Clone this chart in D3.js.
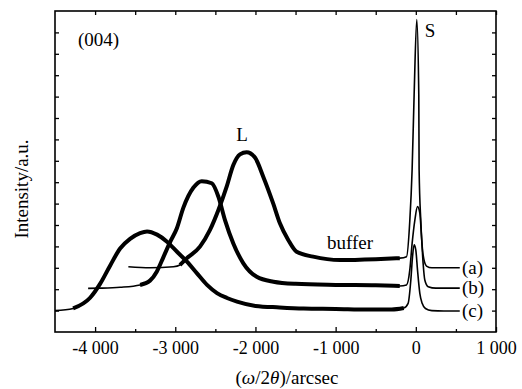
<!DOCTYPE html>
<html><head><meta charset="utf-8">
<script src="https://cdn.jsdelivr.net/npm/d3@7"></script>
<style>
body{margin:0;background:#fff}
text{font-family:"Liberation Serif","Times New Roman",serif;fill:#000}
</style>
</head><body>
<svg id="chart" width="522" height="389"></svg>
<script>
// ---- data ----
const seriesNames = ["(a)", "(b)", "(c)"];

const xA = [-3585, -3315, -3023, -2941, -2858, -2692, -2567, -2462, -2359, -2276, -2193, -2110, -2006, -1903, -1779, -1695, -1591, -1487, -1280, -947, -500, -200, -116, -75, -46, -21, 12, 37, 41, 62, 91, 133, 200, 548];
const yA = [3.05, 3.0, 3.05, 3.13, 3.44, 3.99, 4.77, 5.7, 6.79, 7.8, 8.3, 8.4, 8.15, 7.26, 6.01, 5.08, 4.3, 3.75, 3.52, 3.36, 3.4, 3.45, 3.52, 5.2, 7.6, 11.1, 14.6, 11.1, 7.6, 5.2, 3.6, 3.08, 3.0, 3.0];

const xB = [-4087, -3938, -3688, -3439, -3315, -3231, -3148, -3065, -2980, -2900, -2773, -2670, -2545, -2462, -2380, -2276, -2151, -1984, -1776, -1500, -1000, -500, -200, -116, -75, -46, -12, 21, 50, 71, 91, 112, 154, 250, 548];
const yB = [2.04, 2.05, 2.09, 2.2, 2.4, 2.82, 3.5, 4.2, 4.85, 5.8, 6.75, 7.05, 6.95, 6.32, 5.23, 4.14, 3.21, 2.58, 2.35, 2.25, 2.2, 2.18, 2.15, 2.2, 2.9, 4.14, 5.23, 5.86, 5.56, 4.45, 3.21, 2.43, 2.12, 2.05, 2.05];

const xC = [-4500, -4274, -4062, -3938, -3813, -3688, -3564, -3439, -3352, -3227, -3103, -2978, -2854, -2729, -2604, -2480, -2355, -2230, -2000, -1700, -1400, -1000, -600, -300, -150, -96, -62, -41, -21, 0, 21, 50, 79, 120, 200, 350, 548];
const yC = [1.0, 1.1, 1.6, 2.25, 3.1, 3.9, 4.35, 4.62, 4.7, 4.55, 4.22, 3.75, 3.29, 2.74, 2.2, 1.82, 1.59, 1.42, 1.22, 1.15, 1.1, 1.08, 1.05, 1.05, 1.12, 1.34, 2.43, 3.52, 4.07, 3.83, 2.9, 1.81, 1.34, 1.1, 1.0, 0.98, 0.98];

const xTickValues = [-4000, -3000, -2000, -1000, 0, 1000];
const xTickLabels = ["-4 000", "-3 000", "-2 000", "-1 000", "0", "1 000"];
const xMinorTicks = [-3500, -2500, -1500, -500, 500];
const yTickValues = [1, 2, 3, 4, 5, 6, 7, 8, 9, 10, 11, 12, 13, 14];

// ---- drawing ----
const SERIF = '"Liberation Serif","Times New Roman",serif';
const svg = d3.select("#chart");
const x = d3.scaleLinear().domain([-4500, 1000]).range([55, 496]);
const y = d3.scaleLinear().domain([0, 15]).range([332, 11]);

const series = [
  {name: seriesNames[0], xs: xA, ys: yA, thickFrom: -3000},
  {name: seriesNames[1], xs: xB, ys: yB, thickFrom: -3500},
  {name: seriesNames[2], xs: xC, ys: yC, thickFrom: -4400}
];

const line = d3.line().x(d => x(d[0])).y(d => y(d[1])).curve(d3.curveMonotoneX);

series.forEach(s => {
  const pts = s.xs.map((v, i) => [v, s.ys[i]]);
  svg.append("path").attr("d", line(pts))
    .attr("fill", "none").attr("stroke", "#000").attr("stroke-width", 1.6)
    .attr("stroke-linejoin", "round");
  const thick = pts.filter(p => p[0] >= s.thickFrom && p[0] <= -150);
  svg.append("path").attr("d", line(thick))
    .attr("fill", "none").attr("stroke", "#000").attr("stroke-width", 4)
    .attr("stroke-linejoin", "round");
  const last = pts[pts.length - 1];
  svg.append("text").attr("x", x(575)).attr("y", y(last[1])).attr("dy", "0.33em")
    .attr("font-size", 19).text(s.name);
});

// axes
const gB = svg.append("g").attr("transform", `translate(0,${y(0)})`)
  .call(d3.axisBottom(x).tickValues(xTickValues).tickSize(-5).tickSizeOuter(0)
    .tickPadding(9).tickFormat((d, i) => xTickLabels[i]));
gB.selectAll("text").attr("font-size", 18).attr("dy", "0.71em");
svg.append("g").attr("transform", `translate(0,${y(0)})`)
  .call(d3.axisBottom(x).tickValues(xMinorTicks).tickSize(-3).tickSizeOuter(0).tickFormat(""));
svg.append("g").attr("transform", `translate(0,${y(15)})`)
  .call(d3.axisTop(x).tickValues(xTickValues.concat(xMinorTicks)).tickSize(-4).tickSizeOuter(0).tickFormat(""));
svg.append("g").attr("transform", `translate(${x(-4500)},0)`)
  .call(d3.axisLeft(y).tickValues(yTickValues).tickSize(-4).tickSizeOuter(0).tickFormat(""));
svg.append("g").attr("transform", `translate(${x(1000)},0)`)
  .call(d3.axisRight(y).tickValues(yTickValues).tickSize(-4).tickSizeOuter(0).tickFormat(""));
svg.selectAll(".domain").remove();
svg.selectAll(".tick line").attr("stroke", "#000").attr("stroke-width", 1.3);

svg.append("rect").attr("x", x(-4500)).attr("y", y(15))
  .attr("width", x(1000) - x(-4500)).attr("height", y(0) - y(15))
  .attr("fill", "none").attr("stroke", "#000").attr("stroke-width", 1.6);

// annotations
svg.append("text").attr("x", 78).attr("y", 46).attr("font-size", 19).text("(004)");
svg.append("text").attr("x", 242).attr("y", 141).attr("font-size", 19).attr("text-anchor", "middle").text("L");
svg.append("text").attr("x", 430).attr("y", 37).attr("font-size", 19).attr("text-anchor", "middle").text("S");
svg.append("text").attr("x", 350).attr("y", 249).attr("font-size", 19).attr("text-anchor", "middle").text("buffer");

// axis titles
svg.append("text").attr("x", 287).attr("y", 384).attr("font-size", 19).attr("text-anchor", "middle")
  .html('(<tspan font-style="italic">ω</tspan>/2<tspan font-style="italic">θ</tspan>)/arcsec');
svg.append("text").attr("transform", "translate(28,189) rotate(-90)").attr("font-size", 19)
  .attr("text-anchor", "middle").text("Intensity/a.u.");

svg.selectAll("g").attr("font-family", null);
svg.selectAll("text").style("font-family", SERIF).style("fill", "#000");
</script>
</body></html>
